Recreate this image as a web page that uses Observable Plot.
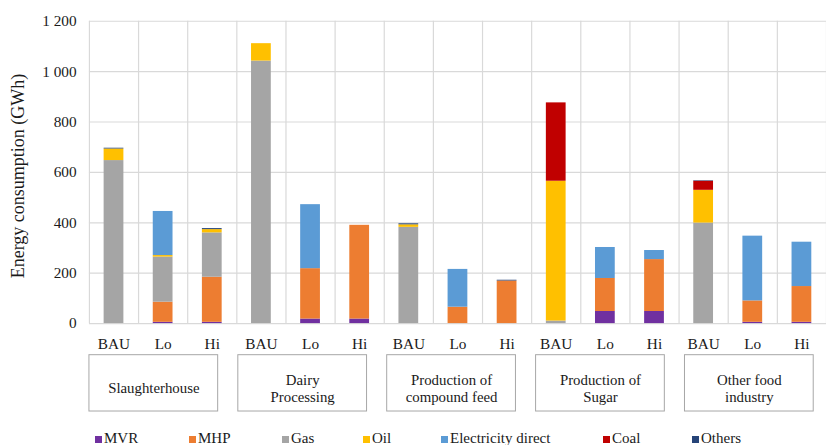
<!DOCTYPE html>
<html><head><meta charset="utf-8">
<script src="https://cdn.jsdelivr.net/npm/d3@7"></script>
<script src="https://cdn.jsdelivr.net/npm/@observablehq/plot@0.6"></script>
<style>
html,body{margin:0;padding:0;background:#fff;overflow:hidden;}
#wrap{position:relative;width:826px;height:445px;overflow:hidden;font-family:'Liberation Serif',serif;}
#chart{position:absolute;left:0;top:0;}
#chart svg text{font-family:'Liberation Serif',serif;}
.leg{position:absolute;top:430px;font-family:'Liberation Serif',serif;font-size:15px;line-height:17px;color:#1a1a1a;white-space:nowrap;}
.sw{display:inline-block;width:7px;height:7px;margin-right:2px;vertical-align:baseline;}
#ylab{position:absolute;left:18px;top:176px;transform:translate(-50%,-50%) rotate(-90deg);font-family:'Liberation Serif',serif;font-size:18px;line-height:18px;color:#1a1a1a;white-space:nowrap;}
</style></head><body>
<div id="wrap"><div id="chart"></div><div id="ylab">Energy consumption (GWh)</div></div>
<script>
const groups = ["Slaughterhouse","Dairy\nProcessing","Production of\ncompound feed","Production of\nSugar","Other food\nindustry"];
const scenarios = ["BAU","Lo","Hi"];
const sources = ["MVR","MHP","Gas","Oil","Electricity direct","Coal","Others"];
const colors = ["#7030a0","#ed7d31","#a5a5a5","#ffc000","#5b9bd5","#c00000","#264478"];
const yTicks = [0,200,400,600,800,1000,1200];

// values per bar: Slaughterhouse BAU/Lo/Hi, Dairy..., Feed..., Sugar..., Other...
const MVR    = [0,5,5,     0,18,18,    0,0,0,     0,48,48,    0,5,5];
const MHP    = [0,80,179,  0,200,372,  0,65,169,  0,131,206,  0,85,142];
const Gas    = [647,179,176, 1042,0,0, 382,0,0,   10,0,0,     399,0,0];
const Oil    = [46,6,13,   69,0,0,     10,0,0,    555,0,0,    130,0,0];
const Elec   = [0,175,0,   0,254,0,    0,150,0,   0,123,36,   0,257,176];
const Coal   = [0,0,0,     0,0,0,      0,0,0,     311,0,0,    36,0,0];
const Others = [3,0,4,     0,0,0,      4,0,3,     0,0,0,      2,0,0];

const series = [MVR, MHP, Gas, Oil, Elec, Coal, Others];
const rows = [];
for (let i = 0; i < 15; i++) {
  sources.forEach((s, k) => rows.push({i, source: s, value: series[k][i]}));
}
const cats = d3.range(15).map(i => ({i, label: scenarios[i % 3]}));
const grp = groups.map((g, k) => ({k, label: g}));

const FONT = "Liberation Serif";
const W = 836, H = 426, ML = 90, MT = 21, MB = 99;
const step = (W - ML) / 15;
const barInset = (step - 20) / 2;

const chart = Plot.plot({
  width: W, height: H,
  marginLeft: ML, marginRight: 0, marginTop: MT, marginBottom: MB,
  style: {fontFamily: FONT, fontSize: "15.5px", color: "#1a1a1a", background: "white"},
  x: {domain: [0, 15], axis: null},
  y: {domain: [0, 1200], ticks: yTicks, tickSize: 0, tickPadding: 13, label: null,
      tickFormat: d => d3.format(",")(d).replace(/,/g, " ")},
  color: {domain: sources, range: colors},
  marks: [
    Plot.ruleY(yTicks, {stroke: "#d9d9d9", strokeWidth: 1.2}),
    Plot.ruleX(d3.range(16), {stroke: "#d9d9d9", strokeWidth: 1.2}),
    Plot.rectY(rows, {x: "i", interval: 1, y: "value", fill: "source", order: sources,
      insetLeft: barInset, insetRight: barInset}),
    Plot.text(cats, {x: d => d.i + 0.5, y: () => 0, text: "label", dy: 21, lineAnchor: "middle",
      fill: "#1a1a1a", fontFamily: FONT, fontSize: 15.5}),
    Plot.rect(grp, {x1: d => d.k * 3 + d.k * 0.03, x2: d => d.k * 3 + d.k * 0.03 + 2.62,
      insetTop: 338, insetBottom: -89, fill: "none", stroke: "#a6a6a6", strokeWidth: 1}),
    Plot.text(grp, {x: d => d.k * 3 + d.k * 0.03 + 1.31, y: () => 0, text: "label", dy: 65,
      lineAnchor: "middle", lineHeight: 1.18, fill: "#1a1a1a", fontFamily: FONT, fontSize: 15})
  ]
});
document.getElementById("chart").appendChild(chart);

const legX = [95, 189, 282, 363, 441, 603, 692];
const wrap = document.getElementById("wrap");
sources.forEach((s, k) => {
  const d = document.createElement("div");
  d.className = "leg";
  d.style.left = legX[k] + "px";
  d.innerHTML = `<span class="sw" style="background:${colors[k]}"></span>${s}`;
  wrap.appendChild(d);
});
</script>
</body></html>
